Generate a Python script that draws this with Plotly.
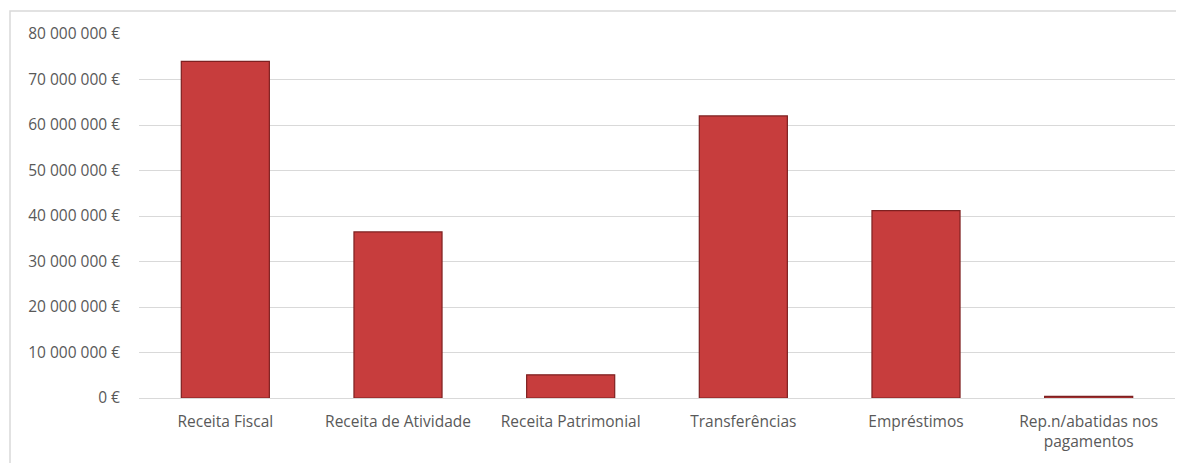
import plotly.graph_objects as go

categories = ["Receita Fiscal", "Receita de Atividade", "Receita Patrimonial",
              "Transferências", "Empréstimos", "Rep.n/abatidas nos<br>pagamentos"]
values = [74000000, 36500000, 5100000, 62000000, 41200000, 350000]
tick_vals = [0, 10000000, 20000000, 30000000, 40000000, 50000000, 60000000, 70000000, 80000000]
tick_text = ["0 €", "10 000 000 €", "20 000 000 €", "30 000 000 €", "40 000 000 €",
             "50 000 000 €", "60 000 000 €", "70 000 000 €", "80 000 000 €"]

fig = go.Figure()
fig.add_trace(go.Bar(
    x=categories, y=values,
    marker=dict(color="#c73d3d", line=dict(color="#7e2020", width=1.2)),
    hoverinfo="skip",
))

font = dict(family="Open Sans, Lato, sans-serif", size=15.5, color="#595959")

W, H = 1184, 463
ML, MR, MT, MB = 131, 17, 26, 73
PW, PH = W - ML - MR, H - MT - MB

fig.update_layout(
    width=W, height=H,
    margin=dict(l=ML, r=MR, t=MT, b=MB),
    paper_bgcolor="white", plot_bgcolor="white",
    bargap=0.49,
    showlegend=False,
    font=font,
    xaxis=dict(showgrid=False, showline=True, linecolor="#d9d9d9", linewidth=1,
               ticks="", tickfont=font, ticklabelstandoff=9),
    yaxis=dict(range=[0, 80000000], tickvals=tick_vals, ticktext=tick_text,
               showgrid=True, gridcolor="#d9d9d9", gridwidth=1,
               zeroline=False, showline=False, ticks="",
               tickfont=font, ticklabelstandoff=18),
    shapes=[dict(type="rect", xref="paper", yref="paper",
                 x0=(2 - ML) / PW, x1=(W + 5 - ML) / PW,
                 y0=-0.4, y1=1 + (MT - 3) / PH,
                 line=dict(color="#d9d9d9", width=1.5), fillcolor="rgba(0,0,0,0)",
                 layer="below")],
)

fig.write_html("out.html")
